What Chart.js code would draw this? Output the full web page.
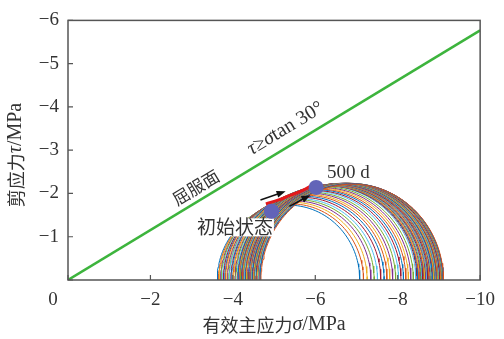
<!DOCTYPE html>
<html>
<head>
<meta charset="utf-8">
<script src="https://cdn.jsdelivr.net/npm/chart.js@4.4.0/dist/chart.umd.min.js"></script>
<style>
  body { margin: 0; background: #fff; }
  canvas { display: block; }
</style>
</head>
<body>
<canvas id="mohr" width="504" height="339"></canvas>
<script>
// axis ticks
const sigmaTicks = [0, -2, -4, -6, -8, -10];
const tauTicks = [0, -1, -2, -3, -4, -5, -6];

// Mohr circles: minor / major principal stress (MPa)
const sigma3 = [
  -3.62, -3.65, -3.67, -3.70, -3.72, -3.75, -3.77, -3.80, -3.82, -3.85,
  -3.87, -3.90, -3.92, -3.95, -3.97, -4.00, -4.02, -4.05, -4.07, -4.10,
  -4.12, -4.13, -4.15, -4.16, -4.17, -4.18, -4.20, -4.21, -4.22, -4.23,
  -4.25, -4.26, -4.27, -4.28, -4.30, -4.31, -4.32, -4.33, -4.35, -4.36,
  -4.37, -4.38, -4.40, -4.41, -4.42, -4.43, -4.45, -4.46, -4.47, -4.48,
  -4.50, -4.51, -4.52, -4.53, -4.55, -4.56, -4.57, -4.58, -4.60, -4.61,
  -4.62, -4.63, -4.65, -4.66, -4.68
];
const sigma1 = [
  -7.08, -7.17, -7.26, -7.35, -7.43, -7.51, -7.59, -7.67, -7.74, -7.81,
  -7.88, -7.95, -8.02, -8.08, -8.14, -8.20, -8.26, -8.32, -8.38, -8.44,
  -8.47, -8.49, -8.51, -8.53, -8.55, -8.57, -8.59, -8.61, -8.63, -8.64,
  -8.66, -8.68, -8.70, -8.71, -8.73, -8.75, -8.76, -8.78, -8.79, -8.81,
  -8.82, -8.84, -8.85, -8.87, -8.88, -8.90, -8.91, -8.92, -8.94, -8.95,
  -8.96, -8.98, -8.99, -9.00, -9.01, -9.02, -9.04, -9.05, -9.06, -9.07,
  -9.08, -9.09, -9.10, -9.10, -9.11
];

// yield surface tau = sigma tan30
const failSigma = [0, -10];
const failTau = [0, -5.77];

// path of the circle between initial state and 500 d
const pathSigma = [-4.80, -5.11, -5.40, -5.69, -5.95];
const pathTau = [-1.76, -1.85, -1.96, -2.07, -2.21];
const stateSigma = [-4.94, -6.02];
const stateTau = [-1.59, -2.14];

// arrows [fromSigma, fromTau, toSigma, toTau]
const arrows = [
  [-4.67, -1.85, -5.28, -2.05],
  [-5.37, -1.70, -5.88, -1.96]
];

const lineColors = ['#0072BD', '#D95319', '#EDB120', '#7E2F8E', '#77AC30', '#4DBEEE', '#A2142F'];

function halfCircle(s3, s1) {
  const c = (s3 + s1) / 2;
  const r = Math.abs(s1 - s3) / 2;
  const pts = [];
  for (let k = 0; k <= 72; k++) {
    const a = Math.PI * k / 72;
    pts.push({ x: c + r * Math.cos(a), y: -r * Math.sin(a) });
  }
  return pts;
}

const datasets = [];
datasets.push({
  data: stateSigma.map((s, i) => ({ x: s, y: stateTau[i] })),
  showLine: false, pointRadius: 7.5, pointBackgroundColor: '#6264b8', pointBorderWidth: 0
});
datasets.push({
  data: pathSigma.map((s, i) => ({ x: s, y: pathTau[i] })),
  showLine: true, borderColor: '#e3191c', borderWidth: 3, pointRadius: 0, tension: 0.4
});
datasets.push({
  data: failSigma.map((s, i) => ({ x: s, y: failTau[i] })),
  showLine: true, borderColor: '#3db43d', borderWidth: 2.5, pointRadius: 0
});
for (let i = sigma3.length - 1; i >= 0; i--) {
  datasets.push({
    data: halfCircle(sigma3[i], sigma1[i]),
    showLine: true, borderColor: lineColors[i % lineColors.length],
    borderWidth: 1, pointRadius: 0
  });
}

function minus(v) {
  return String(v).replace('-', '\u2212');
}

function drawSegments(ctx, segs, x, y) {
  // draws mixed-font text centred at x,y
  let w = 0;
  segs.forEach(s => { ctx.font = s[1]; w += ctx.measureText(s[0]).width; });
  let cx = x - w / 2;
  ctx.textAlign = 'left';
  ctx.textBaseline = 'middle';
  segs.forEach(s => {
    ctx.font = s[1];
    ctx.fillText(s[0], cx, y);
    cx += ctx.measureText(s[0]).width;
  });
  return w;
}

const cjk = '"Noto Sans CJK SC"';
const serif = '"Liberation Serif"';

const decorPlugin = {
  id: 'decor',
  afterDatasetsDraw(chart) {
    const ctx = chart.ctx;
    const xs = chart.scales.x, ys = chart.scales.y;
    const area = chart.chartArea;
    ctx.save();

    // frame + inward ticks
    ctx.strokeStyle = '#555';
    ctx.lineWidth = 1.5;
    ctx.strokeRect(area.left, area.top, area.right - area.left, area.bottom - area.top);
    ctx.lineWidth = 1.2;
    ctx.beginPath();
    sigmaTicks.forEach(v => {
      const px = xs.getPixelForValue(v);
      ctx.moveTo(px, area.bottom); ctx.lineTo(px, area.bottom - 5);
    });
    tauTicks.forEach(v => {
      const py = ys.getPixelForValue(v);
      ctx.moveTo(area.left, py); ctx.lineTo(area.left + 5, py);
    });
    ctx.stroke();

    // arrows
    ctx.strokeStyle = '#111';
    ctx.fillStyle = '#111';
    ctx.lineWidth = 1.5;
    arrows.forEach(a => {
      const x0 = xs.getPixelForValue(a[0]), y0 = ys.getPixelForValue(a[1]);
      const x1 = xs.getPixelForValue(a[2]), y1 = ys.getPixelForValue(a[3]);
      const ang = Math.atan2(y1 - y0, x1 - x0);
      ctx.beginPath();
      ctx.moveTo(x0, y0);
      ctx.lineTo(x1 - 6 * Math.cos(ang), y1 - 6 * Math.sin(ang));
      ctx.stroke();
      ctx.beginPath();
      ctx.moveTo(x1, y1);
      ctx.lineTo(x1 - 9 * Math.cos(ang) + 3.5 * Math.sin(ang), y1 - 9 * Math.sin(ang) - 3.5 * Math.cos(ang));
      ctx.lineTo(x1 - 9 * Math.cos(ang) - 3.5 * Math.sin(ang), y1 - 9 * Math.sin(ang) + 3.5 * Math.cos(ang));
      ctx.closePath();
      ctx.fill();
    });

    ctx.fillStyle = '#333';
    // corner zero
    ctx.font = '19px ' + serif;
    ctx.textAlign = 'center';
    ctx.textBaseline = 'middle';
    ctx.fillText('0', area.left - 15, area.bottom + 20);

    // labels
    const lineAng = Math.atan2(ys.getPixelForValue(failTau[1]) - ys.getPixelForValue(failTau[0]),
                               xs.getPixelForValue(failSigma[1]) - xs.getPixelForValue(failSigma[0]));

    ctx.save();
    ctx.translate(xs.getPixelForValue(-3.1), ys.getPixelForValue(-2.14));
    ctx.rotate(lineAng);
    drawSegments(ctx, [['屈服面', '17px ' + cjk]], 0, 0);
    ctx.restore();

    ctx.save();
    ctx.translate(xs.getPixelForValue(-5.28), ys.getPixelForValue(-3.5));
    ctx.rotate(lineAng);
    drawSegments(ctx, [['τ', 'italic 20px ' + serif], ['≥', '20px ' + serif],
      ['σ', 'italic 20px ' + serif], ['tan 30°', '20px ' + serif]], 0, 0);
    ctx.restore();

    drawSegments(ctx, [['500 d', '19px ' + serif]], xs.getPixelForValue(-6.8), ys.getPixelForValue(-2.47));

    const ix = xs.getPixelForValue(-4.05), iy = ys.getPixelForValue(-1.24);
    ctx.font = '19px ' + cjk;
    const iw = ctx.measureText('初始状态').width;
    ctx.fillStyle = '#fff';
    ctx.fillRect(ix - iw / 2 - 1, iy - 8, iw + 2, 18);
    ctx.fillStyle = '#333';
    drawSegments(ctx, [['初始状态', '19px ' + cjk]], ix, iy);

    // redraw the initial-state marker over the label box
    ctx.fillStyle = '#6264b8';
    ctx.beginPath();
    ctx.arc(xs.getPixelForValue(stateSigma[0]), ys.getPixelForValue(stateTau[0]), 7.5, 0, Math.PI * 2);
    ctx.fill();

    // axis titles
    ctx.fillStyle = '#333';
    drawSegments(ctx, [['有效主应力', '18px ' + cjk], ['σ', 'italic 20px ' + serif],
      ['/MPa', '20px ' + serif]], (area.left + area.right) / 2, 325);
    ctx.save();
    ctx.translate(16, 155);
    ctx.rotate(-Math.PI / 2);
    drawSegments(ctx, [['剪应力', '18px ' + cjk], ['τ', 'italic 20px ' + serif],
      ['/MPa', '20px ' + serif]], 0, 0);
    ctx.restore();

    ctx.restore();
  }
};

new Chart(document.getElementById('mohr'), {
  type: 'scatter',
  data: { datasets: datasets },
  options: {
    responsive: false,
    animation: false,
    devicePixelRatio: 1,
    layout: { padding: { left: 0, top: 8, right: 21, bottom: 0 } },
    plugins: { legend: { display: false }, tooltip: { enabled: false } },
    scales: {
      x: {
        type: 'linear', min: -10, max: 0, reverse: true,
        afterFit: s => { s.height = 59; },
        afterBuildTicks: s => { s.ticks = sigmaTicks.map(v => ({ value: v })); },
        grid: { display: false, drawTicks: false },
        border: { display: false },
        ticks: {
          padding: 9, color: '#333', maxRotation: 0,
          font: { family: 'Liberation Serif', size: 19 },
          callback: v => v === 0 ? '' : minus(v)
        }
      },
      y: {
        type: 'linear', min: -6, max: 0, reverse: true,
        afterFit: s => { s.width = 68; },
        afterBuildTicks: s => { s.ticks = tauTicks.map(v => ({ value: v })); },
        grid: { display: false, drawTicks: false },
        border: { display: false },
        ticks: {
          padding: 9, color: '#333',
          font: { family: 'Liberation Serif', size: 19 },
          callback: v => v === 0 ? '' : minus(v)
        }
      }
    }
  },
  plugins: [decorPlugin]
});
</script>
</body>
</html>
